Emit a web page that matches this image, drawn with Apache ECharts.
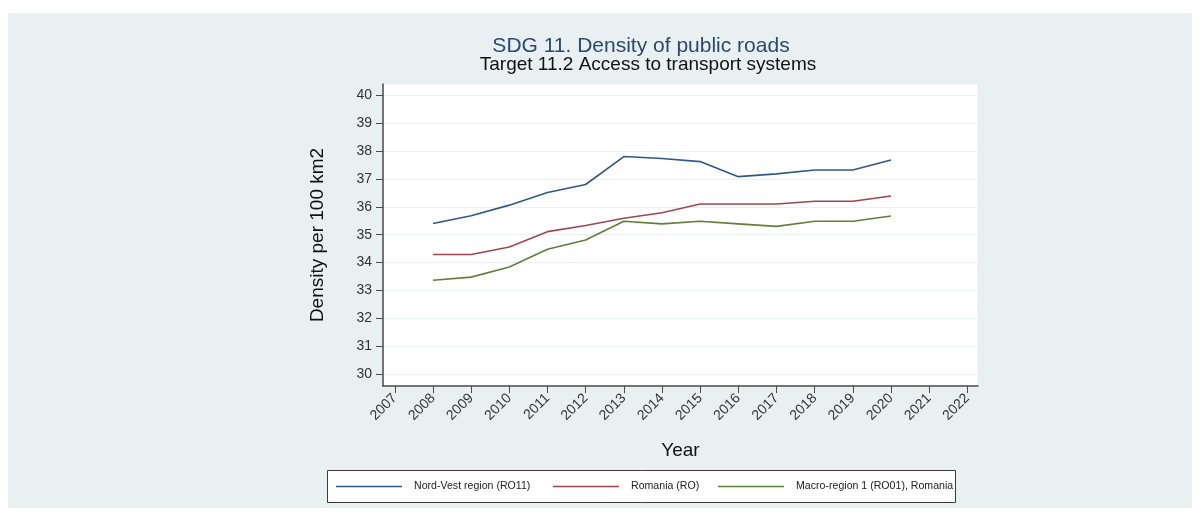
<!DOCTYPE html>
<html>
<head>
<meta charset="utf-8">
<script src="https://cdn.jsdelivr.net/npm/echarts@6/dist/echarts.min.js"></script>
<style>
html,body{margin:0;padding:0;background:#fff;}
#chart{width:1202px;height:520px;}
</style>
</head>
<body>
<div id="chart"></div>
<script>
const years = [2008, 2009, 2010, 2011, 2012, 2013, 2014, 2015, 2016, 2017, 2018, 2019, 2020];
const nordVest = [35.40, 35.68, 36.06, 36.51, 36.80, 37.80, 37.73, 37.62, 37.08, 37.18, 37.32, 37.32, 37.68];
const romania = [34.29, 34.29, 34.56, 35.11, 35.33, 35.59, 35.79, 36.10, 36.10, 36.10, 36.20, 36.20, 36.39];
const macro1 = [33.37, 33.48, 33.84, 34.48, 34.81, 35.48, 35.39, 35.48, 35.39, 35.30, 35.48, 35.48, 35.67];
const xTicks = [2007, 2008, 2009, 2010, 2011, 2012, 2013, 2014, 2015, 2016, 2017, 2018, 2019, 2020, 2021, 2022];
const yTicks = [30, 31, 32, 33, 34, 35, 36, 37, 38, 39, 40];
const seriesNames = ['Nord-Vest region (RO11)', 'Romania (RO)', 'Macro-region 1 (RO01), Romania'];
const colors = ['#2f5a88', '#a3454d', '#5f8136'];

const toPairs = (vals) => years.map((y, i) => [y, vals[i]]);
const allVals = [nordVest, romania, macro1];

const chart = echarts.init(document.getElementById('chart'), null, {renderer: 'canvas'});
const font = 'Liberation Sans, Arial, Helvetica, sans-serif';
const axisColor = '#4a4a4a';

const legendLefts = [336, 553, 718];

chart.setOption({
  animation: false,
  backgroundColor: '#ffffff',
  textStyle: {fontFamily: font},
  graphic: [
    {type: 'rect', z: -10, shape: {x: 8, y: 13, width: 1184, height: 495}, style: {fill: '#e9f0f2'}, silent: true},
    {type: 'rect', z: -5, shape: {x: 327.5, y: 470.5, width: 628, height: 32}, style: {fill: '#ffffff', stroke: '#3a3a3a', lineWidth: 1}, silent: true},
    {type: 'text', x: 641, y: 46, style: {text: 'SDG 11. Density of public roads', font: '21px ' + font, fill: '#2b4a72', textAlign: 'center', textVerticalAlign: 'middle'}},
    {type: 'text', x: 648, y: 65, style: {text: 'Target 11.2 Access to transport systems', font: '19px ' + font, fill: '#111111', textAlign: 'center', textVerticalAlign: 'middle'}}
  ],
  grid: {left: 383, right: 224, top: 84, bottom: 134, show: true, backgroundColor: '#ffffff', borderColor: '#e4ecee', borderWidth: 1},
  xAxis: {
    type: 'value', min: 2006.69, max: 2022.28,
    name: 'Year', nameLocation: 'middle', nameGap: 55,
    nameTextStyle: {fontSize: 19, color: '#111', fontFamily: font},
    axisLine: {show: true, onZero: false, lineStyle: {color: axisColor, width: 1.5}},
    axisTick: {show: true, length: 7, customValues: xTicks, lineStyle: {color: axisColor, width: 1}},
    axisLabel: {customValues: xTicks, rotate: 45, fontSize: 14, color: '#333', margin: 10, fontFamily: font, formatter: v => String(v)},
    splitLine: {show: false}
  },
  yAxis: {
    type: 'value', min: 29.58, max: 40.4,
    name: 'Density per 100 km2', nameLocation: 'middle', nameGap: 56, nameRotate: 90,
    nameTextStyle: {fontSize: 19, color: '#111', fontFamily: font},
    axisLine: {show: true, onZero: false, lineStyle: {color: axisColor, width: 1.5}},
    axisTick: {show: true, length: 7, customValues: yTicks, lineStyle: {color: axisColor, width: 1}},
    axisLabel: {customValues: yTicks, fontSize: 14, color: '#333', margin: 11, fontFamily: font, formatter: v => String(v)},
    splitLine: {show: true, lineStyle: {color: '#e8f0f2', width: 1}}
  },
  legend: seriesNames.map((n, i) => ({
    data: [n], left: legendLefts[i], top: 481, padding: 0, orient: 'horizontal',
    icon: 'rect', itemWidth: 66, itemHeight: 1.6, itemGap: 0,
    textStyle: {fontSize: 10.6, color: '#222', fontFamily: font, padding: [0, 0, 0, 7]}
  })),
  series: seriesNames.map((n, i) => ({
    name: n, type: 'line', data: toPairs(allVals[i]), symbol: 'none', smooth: false,
    lineStyle: {color: colors[i], width: 1.6}, itemStyle: {color: colors[i]}
  }))
});
</script>
</body>
</html>
